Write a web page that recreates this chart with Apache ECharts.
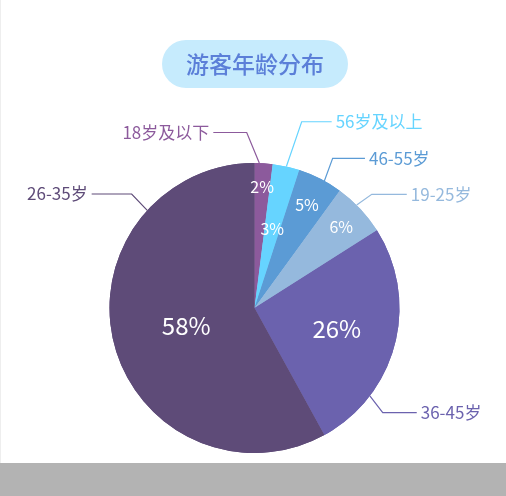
<!DOCTYPE html>
<html><head><meta charset="utf-8">
<script src="https://cdn.jsdelivr.net/npm/echarts@6/dist/echarts.min.js"></script>
<style>html,body{margin:0;padding:0;background:#fff;}#c{width:506px;height:496px;}</style>
</head><body><div id="c"></div>
<script>
// ---- data ----
const titleText = '游客年龄分布';
const categories = ['18岁及以下', '56岁及以上', '46-55岁', '19-25岁', '36-45岁', '26-35岁'];
const shares = [2, 3, 5, 6, 26, 58];

// ---- styles / layout ----
const FONT = '"Noto Sans CJK SC", "Noto Sans", sans-serif';
const COLORS = ['#8C5A9C', '#66D4FF', '#5B9BD5', '#95B9DD', '#6B62AE', '#5E4B78'];
const CENTER = [254.5, 308];
const RADIUS = 145;
const PCT_RADIUS = [121.5, 81.5, 115.5, 119, 85, 70.5];
const PCT_SIZE = [16, 16, 16, 16, 24, 24];
const GUIDES = [
  { angle: 1.9,   knee: [-12.6, -30.6], len: -33.4 },
  { angle: 12.7,  knee: [15.3, -44.8],  len: 30 },
  { angle: 28.8,  knee: [8.3, -22.6],   len: 32.3 },
  { angle: 44.8,  knee: [15.1, -10.8],  len: 35 },
  { angle: 127.3, knee: [12.9, 16.8],   len: 34 },
  { angle: 312.3, knee: [-15.6, -16.4], len: -40 }
];
const GAP = 4;

const total = shares.reduce((a, b) => a + b, 0);
let acc = 0;
const midAngles = shares.map(v => { const m = (acc + v / 2) / total * 360; acc += v; return m; });
function polar(angleDeg, r) {
  const a = angleDeg * Math.PI / 180;
  return [CENTER[0] + r * Math.sin(a), CENTER[1] - r * Math.cos(a)];
}

const baseData = categories.map((name, i) => ({ name, value: shares[i] }));

const chart = echarts.init(document.getElementById('c'));
chart.setOption({
  animation: false,
  color: COLORS,
  textStyle: { fontFamily: FONT },
  title: {
    text: titleText,
    left: 162, top: 40,
    backgroundColor: '#C6EBFD',
    borderRadius: 24,
    padding: [12, 24],
    textStyle: { color: '#5B7FD8', fontSize: 23, fontWeight: 500, lineHeight: 24, fontFamily: FONT }
  },
  graphic: [
    { type: 'rect', shape: { x: 0, y: 463, width: 506, height: 33 }, style: { fill: '#B3B3B3' }, silent: true },
    { type: 'rect', shape: { x: 0, y: 0, width: 1, height: 463 }, style: { fill: '#EEEEEE' }, silent: true }
  ],
  series: [
    {
      type: 'pie',
      name: 'outer',
      center: CENTER,
      radius: RADIUS,
      avoidLabelOverlap: false,
      silent: true,
      data: baseData.map((d, i) => ({ ...d, label: { color: COLORS[i] } })),
      label: { show: true, position: 'outside', formatter: '{b}', fontSize: 17, fontFamily: FONT },
      labelLine: { show: true, lineStyle: { width: 1.2 } },
      labelLayout: function (p) {
        const g = GUIDES[p.dataIndex];
        const e = polar(g.angle, RADIUS);
        const k = [e[0] + g.knee[0], e[1] + g.knee[1]];
        const t = [k[0] + g.len, k[1]];
        return {
          x: t[0] + (g.len > 0 ? GAP : -GAP),
          y: t[1],
          align: g.len > 0 ? 'left' : 'right',
          verticalAlign: 'middle',
          labelLinePoints: [e, k, t]
        };
      }
    },
    {
      type: 'pie',
      name: 'inner',
      center: CENTER,
      radius: RADIUS,
      avoidLabelOverlap: false,
      silent: true,
      data: baseData,
      label: { show: true, position: 'inside', formatter: '{c}%', color: '#fff', fontFamily: FONT },
      labelLine: { show: false },
      labelLayout: function (p) {
        const i = p.dataIndex;
        const pt = polar(midAngles[i], PCT_RADIUS[i]);
        return { x: pt[0], y: pt[1], align: 'center', verticalAlign: 'middle', fontSize: PCT_SIZE[i] };
      }
    }
  ]
});
</script>
</body></html>
